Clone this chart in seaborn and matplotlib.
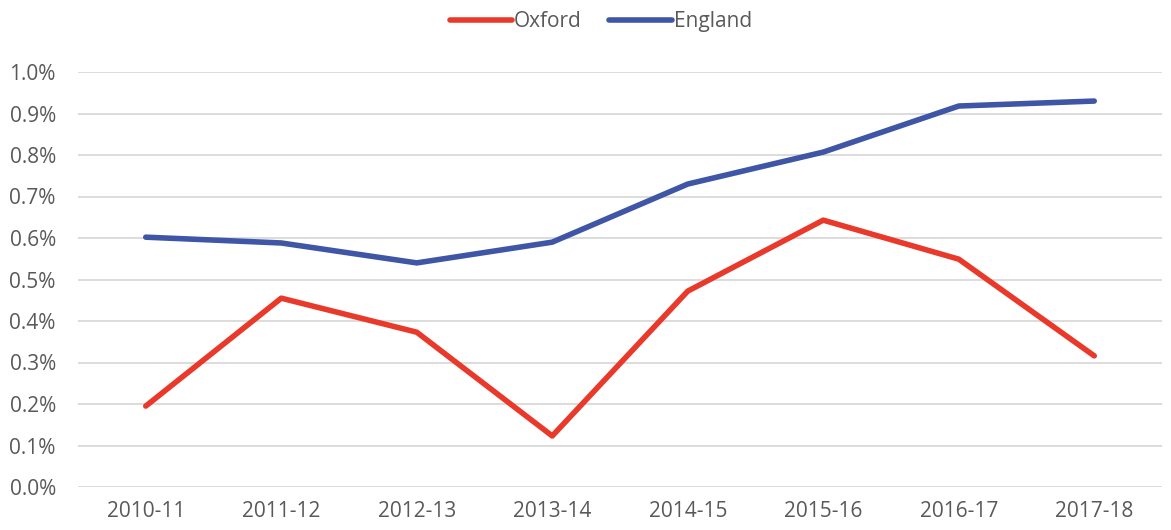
import matplotlib
matplotlib.use("Agg")
import matplotlib.pyplot as plt
import seaborn as sns
import pandas as pd
from matplotlib.ticker import FuncFormatter

years = ["2010-11", "2011-12", "2012-13", "2013-14", "2014-15", "2015-16", "2016-17", "2017-18"]
oxford = [0.195, 0.455, 0.373, 0.123, 0.472, 0.643, 0.549, 0.316]
england = [0.602, 0.588, 0.540, 0.590, 0.730, 0.807, 0.918, 0.930]

sns.set_theme(style="white")
plt.rcParams['font.family'] = ['Open Sans', 'DejaVu Sans']

df = pd.DataFrame({
    "year": years * 2,
    "x": list(range(len(years))) * 2,
    "value": oxford + england,
    "series": ["Oxford"] * len(years) + ["England"] * len(years),
})

fig = plt.figure(figsize=(11.71, 5.30), dpi=100)
ax = fig.add_axes([78 / 1171, 1 - 487 / 530, (1162 - 78) / 1171, (487 - 72) / 530])

sns.lineplot(data=df, x="x", y="value", hue="series",
             palette={"Oxford": "#E8392B", "England": "#3F55A5"},
             linewidth=4, ax=ax, legend=True, solid_capstyle="round")

ax.set_xlim(-0.5, len(years) - 0.5)
ax.set_ylim(0, 1.0)
ax.set_yticks([i / 10 for i in range(11)])
ax.yaxis.set_major_formatter(FuncFormatter(lambda v, p: f"{v:.1f}%"))
ax.set_xticks(range(len(years)))
ax.set_xticklabels(years)
ax.grid(axis="y", color="#D9D9D9", linewidth=1.3)
ax.set_axisbelow(True)
for s in ax.spines.values():
    s.set_visible(False)
ax.tick_params(axis="both", length=0, labelsize=15, colors="#595959")
ax.tick_params(axis="y", pad=16)
ax.tick_params(axis="x", pad=10)
ax.set_xlabel("")
ax.set_ylabel("")

handles, labels = ax.get_legend_handles_labels()
leg = fig.legend(handles, labels, loc="upper center", bbox_to_anchor=(0.513, 1.015),
                 ncol=2, frameon=False, fontsize=15, handlelength=3.0,
                 handletextpad=0.1, columnspacing=1.3)
for t in leg.get_texts():
    t.set_color("#595959")
if ax.get_legend():
    ax.get_legend().remove()

fig.savefig("out.png", dpi=100)
